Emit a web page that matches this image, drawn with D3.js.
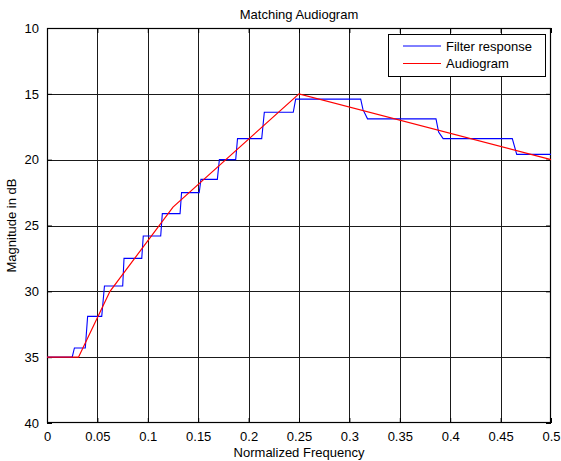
<!DOCTYPE html>
<html>
<head>
<meta charset="utf-8">
<script src="https://cdn.jsdelivr.net/npm/d3@7"></script>
<style>
  html, body { margin: 0; padding: 0; background: #fff; }
  svg { display: block; }
  text { font-family: "Liberation Sans", Arial, Helvetica, sans-serif; fill: #000; }
</style>
</head>
<body>
<div id="chart"></div>
<script>
// Filter response (step approximation) — normalized frequency and magnitude in dB
const filterFreq = [0, 0.0250, 0.0272, 0.0380, 0.0403, 0.0543, 0.0570, 0.0751, 0.0764, 0.0940,
  0.0955, 0.1128, 0.1144, 0.1320, 0.1335, 0.1510, 0.1527, 0.1690, 0.1710, 0.1872,
  0.1890, 0.2130, 0.2156, 0.2443, 0.2467, 0.3112, 0.3135, 0.3180, 0.3859, 0.3885,
  0.3930, 0.4616, 0.4660, 0.5];
const filterDb = [35, 35, 34.3, 34.3, 31.9, 31.9, 29.6, 29.6, 27.5, 27.5,
  25.8, 25.8, 24.1, 24.1, 22.5, 22.5, 21.5, 21.5, 20.0, 20.0,
  18.4, 18.4, 16.4, 16.4, 15.4, 15.4, 16.2, 16.9, 16.9, 17.9,
  18.4, 18.4, 19.6, 19.6];

// Target audiogram
const audioFreq = [0, 0.03125, 0.0625, 0.125, 0.25, 0.5];
const audioDb = [35, 35, 30, 23.6, 15, 20];

const xTicks = [0, 0.05, 0.1, 0.15, 0.2, 0.25, 0.3, 0.35, 0.4, 0.45, 0.5];
const yTicks = [10, 15, 20, 25, 30, 35, 40];

const seriesNames = ["Filter response", "Audiogram"];
const seriesColors = ["#0000ff", "#ff0000"];

const W = 561, H = 461;
const L = 47, R = 551, T = 28, B = 423;

const svg = d3.select("#chart").append("svg").attr("width", W).attr("height", H);

const x = d3.scaleLinear().domain([0, 0.5]).range([L, R]);
const y = d3.scaleLinear().domain([10, 40]).range([T, B]);

// grid
const grid = svg.append("g").attr("shape-rendering", "crispEdges");
grid.selectAll("line.gx").data(xTicks.slice(1, -1)).join("line")
  .attr("x1", d => Math.round(x(d)) + 0.5).attr("x2", d => Math.round(x(d)) + 0.5)
  .attr("y1", T).attr("y2", B)
  .attr("stroke", "#1a1a1a").attr("stroke-width", 1);
grid.selectAll("line.gy").data(yTicks.slice(1, -1)).join("line")
  .attr("y1", d => Math.round(y(d)) + 0.5).attr("y2", d => Math.round(y(d)) + 0.5)
  .attr("x1", L).attr("x2", R)
  .attr("stroke", "#1a1a1a").attr("stroke-width", 1);

// axes with inward ticks
const xAxis = svg.append("g").attr("transform", `translate(0,${B})`)
  .call(d3.axisBottom(x).tickValues(xTicks).tickFormat(d => d3.format("")(+d.toFixed(2))).tickSizeInner(-5).tickSizeOuter(0).tickPadding(9));
const xAxisTop = svg.append("g").attr("transform", `translate(0,${T})`)
  .call(d3.axisTop(x).tickValues(xTicks).tickFormat("").tickSizeInner(-5).tickSizeOuter(0));
const yAxis = svg.append("g").attr("transform", `translate(${L},0)`)
  .call(d3.axisLeft(y).tickValues(yTicks).tickSizeInner(-5).tickSizeOuter(0).tickPadding(8));
const yAxisRight = svg.append("g").attr("transform", `translate(${R},0)`)
  .call(d3.axisRight(y).tickValues(yTicks).tickFormat("").tickSizeInner(-5).tickSizeOuter(0));

[xAxis, xAxisTop, yAxis, yAxisRight].forEach(g => {
  g.select(".domain").remove();
  g.selectAll("line").attr("stroke", "#000");
  g.selectAll("text").attr("font-size", 13).attr("font-family", "Liberation Sans, Arial, sans-serif").attr("fill", "#000");
});

// plot box
svg.append("rect").attr("x", L + 0.5).attr("y", T + 0.5)
  .attr("width", R - L - 1).attr("height", B - T - 1)
  .attr("fill", "none").attr("stroke", "#000").attr("stroke-width", 1.2);

// lines
const line = d3.line().x(d => x(d[0])).y(d => y(d[1]));
const filterPts = filterFreq.map((f, i) => [f, filterDb[i]]);
const audioPts = audioFreq.map((f, i) => [f, audioDb[i]]);

svg.append("path").datum(filterPts).attr("d", line)
  .attr("fill", "none").attr("stroke", seriesColors[0]).attr("stroke-width", 1.1);
svg.append("path").datum(audioPts).attr("d", line)
  .attr("fill", "none").attr("stroke", seriesColors[1]).attr("stroke-width", 1.2);

// legend
const leg = svg.append("g");
leg.append("rect").attr("x", 388.5).attr("y", 34.5).attr("width", 157).attr("height", 42)
  .attr("fill", "#fff").attr("stroke", "#000").attr("stroke-width", 1);
seriesNames.forEach((name, i) => {
  const ly = 46 + i * 17.5;
  leg.append("line").attr("x1", 403).attr("x2", 441).attr("y1", ly).attr("y2", ly)
    .attr("stroke", seriesColors[i]).attr("stroke-width", 1);
  leg.append("text").attr("x", 446).attr("y", ly + 4.5).attr("font-size", 13).text(name);
});

// titles
svg.append("text").attr("x", (L + R) / 2).attr("y", 19).attr("text-anchor", "middle")
  .attr("font-size", 13).text("Matching Audiogram");
svg.append("text").attr("x", (L + R) / 2).attr("y", 457).attr("text-anchor", "middle")
  .attr("font-size", 13).text("Normalized Frequency");
svg.append("text").attr("transform", `translate(16,${(T + B) / 2}) rotate(-90)`)
  .attr("text-anchor", "middle").attr("font-size", 13).text("Magnitude in dB");
</script>
</body>
</html>
